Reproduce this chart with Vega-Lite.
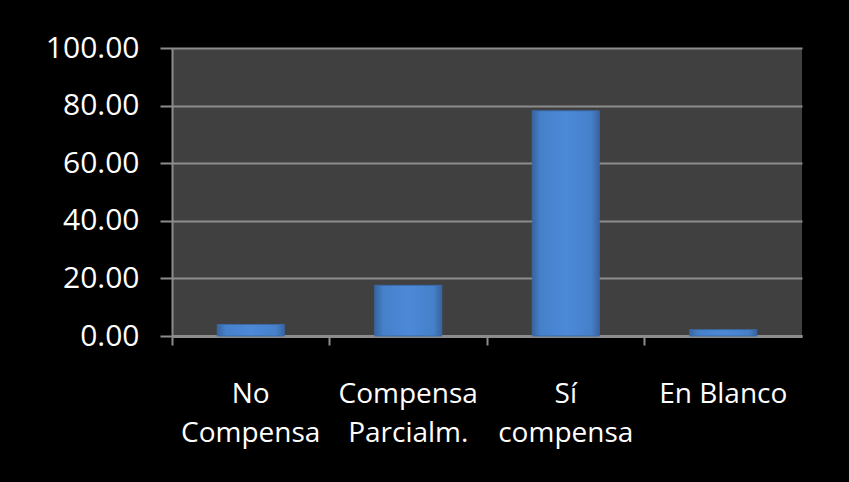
{
  "$schema": "https://vega.github.io/schema/vega-lite/v6.json",
  "width": 630,
  "height": 288,
  "autosize": "none",
  "padding": {"left": 172, "top": 48, "right": 47, "bottom": 146},
  "background": "#000000",
  "config": {
    "view": {"fill": "#404040", "stroke": null},
    "font": "Open Sans"
  },
  "data": {
    "values": [
      {"categoria": "No\nCompensa", "valor": 4.0},
      {"categoria": "Compensa\nParcialm.", "valor": 17.6},
      {"categoria": "Sí\ncompensa", "valor": 78.2},
      {"categoria": "En Blanco", "valor": 2.2}
    ]
  },
  "mark": {
    "type": "bar",
    "fill": {
      "gradient": "linear",
      "x1": 0, "y1": 0, "x2": 1, "y2": 0,
      "stops": [
        {"offset": 0, "color": "#37649f"},
        {"offset": 0.12, "color": "#4680ca"},
        {"offset": 0.5, "color": "#4c89d8"},
        {"offset": 0.88, "color": "#4680ca"},
        {"offset": 1, "color": "#37649f"}
      ]
    },
    "stroke": "#3a6aa8",
    "strokeWidth": 1
  },
  "encoding": {
    "x": {
      "field": "categoria",
      "type": "nominal",
      "sort": null,
      "scale": {"paddingInner": 0.575, "paddingOuter": 0.2875},
      "axis": {
        "title": null,
        "labelAngle": 0,
        "labelExpr": "split(datum.label, '\\n')",
        "labelFont": "Open Sans",
        "labelFontSize": 28,
        "labelColor": "#ffffff",
        "labelLineHeight": 39,
        "labelBaseline": "top",
        "labelPadding": 35,
        "bandPosition": -0.676,
        "tickSize": 9,
        "tickWidth": 2,
        "tickColor": "#8c8c8c",
        "domainColor": "#8c8c8c",
        "domainWidth": 3,
        "grid": false
      }
    },
    "y": {
      "field": "valor",
      "type": "quantitative",
      "scale": {"domain": [0, 100], "nice": false},
      "axis": {
        "title": null,
        "values": [0, 20, 40, 60, 80, 100],
        "format": ".2f",
        "labelFont": "Open Sans",
        "labelFontSize": 30,
        "labelColor": "#ffffff",
        "labelPadding": 21,
        "tickSize": 12,
        "tickWidth": 2,
        "tickColor": "#8c8c8c",
        "domainColor": "#8c8c8c",
        "domainWidth": 2,
        "grid": true,
        "gridColor": "#8c8c8c",
        "gridWidth": 2
      }
    }
  }
}
